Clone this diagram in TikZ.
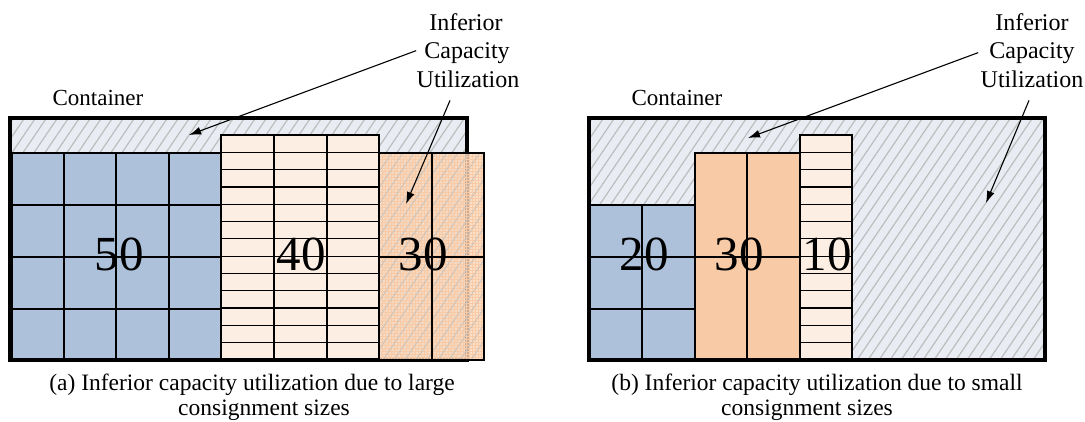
\documentclass[tikz,border=0pt]{standalone}
\usepackage{fontspec}
\setmainfont{Liberation Serif}
\usetikzlibrary{arrows.meta}

\definecolor{boxblue}{HTML}{ADC1DA}
\definecolor{lightpeach}{HTML}{FDEEE3}
\definecolor{peach}{HTML}{F8CBA6}
\definecolor{voidbg}{HTML}{E9EDF3}
\definecolor{hatchgray}{HTML}{BDBDBD}

\tikzset{
  cell/.style={draw=black, line width=1.2pt},
  wall/.style={draw=black, line width=3.2pt},
  lbl/.style={font=\fontsize{24}{28}\selectfont, inner sep=1pt, anchor=base},
  contlbl/.style={lbl, font=\fontsize{23}{27}\selectfont},
  caption/.style={lbl, font=\fontsize{23.5}{27}\selectfont},
  num/.style={font=\fontsize{49}{49}\selectfont, inner sep=0pt},
  pointer/.style={line width=1.1pt, -{Latex[length=12pt,width=8pt]}},
  hatchline/.style={draw=hatchgray, line width=1.2pt},
}

% diagonal hatching clipped to a rectangle: x1 y1 x2 y2 (y2 is the lower edge)
\newcommand\hatchrect[5][]{%
  \begin{scope}
    \clip (#2,#3) rectangle (#4,#5);
    \foreach \k in {-260,-249,...,480}
      \draw[hatchline,#1] (#2+\k,#5) -- ++(170,-250);
  \end{scope}}

\begin{document}
\begin{tikzpicture}[x=1pt,y=-1pt]
\useasboundingbox (0,0) rectangle (1085,421);

% ---------------- (a) large consignments ----------------
\fill[voidbg] (10,118) rectangle (467,360);
\hatchrect{10}{118}{467}{360}

% consignment 50
\fill[boxblue] (12,153) rectangle (221,360);
\foreach \x in {64,116,169} \draw[cell] (\x,153) -- (\x,360);
\foreach \y in {205,257,309} \draw[cell] (12,\y) -- (221,\y);
\draw[cell] (12,153) rectangle (221,360);

% consignment 40
\fill[lightpeach] (221,135) rectangle (379,360);
\foreach \i in {1,...,12} \draw[cell] (221,135+\i*225/13) -- (379,135+\i*225/13);
\foreach \x in {274,327} \draw[cell] (\x,135) -- (\x,360);
\draw[cell] (221,135) rectangle (379,360);

\draw[wall] (10,118) rectangle (467,360);

% consignment 30, sticking out of the container
\fill[peach!75!white, fill opacity=0.8] (379,153) rectangle (484,360);
\begin{scope}
  \clip (379,153) rectangle (484,360);
  \foreach \x in {382,385,...,484} \draw[peach, line width=0.3pt] (\x,153) -- (\x,360);
  \foreach \y in {156,159,...,360} \draw[peach, line width=0.3pt] (379,\y) -- (484,\y);
\end{scope}
\hatchrect[draw opacity=0.6]{379}{153}{484}{360}
\draw[cell] (432,153) -- (432,360);
\draw[cell] (379,257) -- (484,257);
\draw[cell] (379,153) rectangle (484,360);

\node[num] (n50) at (119,254) {50};
\node[num] (n40) at (301,254) {40};
\node[num] (n30a) at (423,254) {30};

\node[contlbl] (contA) at (98,105) {Container};
\node[lbl] (infA) at (466,30) {Inferior};
\node[lbl] (capA) at (467,58) {Capacity};
\node[lbl] (utilA) at (468,87) {Utilization};
\coordinate (tipA1) at (189,135);
\coordinate (tipA2) at (406,204);
\draw[pointer] ([xshift=-7pt,yshift=2pt]capA.west) -- (tipA1);
\draw[pointer] ([xshift=-18pt,yshift=-12pt]utilA.south) -- (tipA2);

\node[caption] (capa1) at (252,390) {(a) Inferior capacity utilization due to large};
\node[caption] (capa2) at (264,415) {consignment sizes};

% ---------------- (b) small consignments ----------------
\fill[voidbg] (589,118) rectangle (1045,360);
\hatchrect{589}{118}{1045}{360}

% consignment 20
\fill[boxblue] (589,205) rectangle (695,360);
\draw[cell] (642,205) -- (642,360);
\foreach \y in {257,309} \draw[cell] (589,\y) -- (695,\y);
\draw[cell] (589,205) rectangle (695,360);

% consignment 30
\fill[peach] (695,153) rectangle (800,360);
\draw[cell] (747,153) -- (747,360);
\draw[cell] (695,257) -- (800,257);
\draw[cell] (695,153) rectangle (800,360);

% consignment 10
\fill[lightpeach] (800,135) rectangle (852,360);
\foreach \i in {1,...,12} \draw[cell] (800,135+\i*225/13) -- (852,135+\i*225/13);
\draw[cell] (800,135) rectangle (852,360);

\draw[wall] (589,118) rectangle (1045,360);

\node[num] (n20) at (644,254) {20};
\node[num] (n30b) at (739,254) {30};
\node[num] (n10) at (827,254) {10};

\node[contlbl] (contB) at (677,105) {Container};
\node[lbl] (infB) at (1032,30) {Inferior};
\node[lbl] (capB) at (1032,58) {Capacity};
\node[lbl] (utilB) at (1032,87) {Utilization};
\coordinate (tipB1) at (748,138);
\coordinate (tipB2) at (986,203);
\draw[pointer] ([xshift=-10pt,yshift=0pt]capB.west) -- (tipB1);
\draw[pointer] ([xshift=-3pt,yshift=-12pt]utilB.south) -- (tipB2);

\node[caption] (capb1) at (817,390) {(b) Inferior capacity utilization due to small};
\node[caption] (capb2) at (807,415) {consignment sizes};
\end{tikzpicture}
\end{document}
